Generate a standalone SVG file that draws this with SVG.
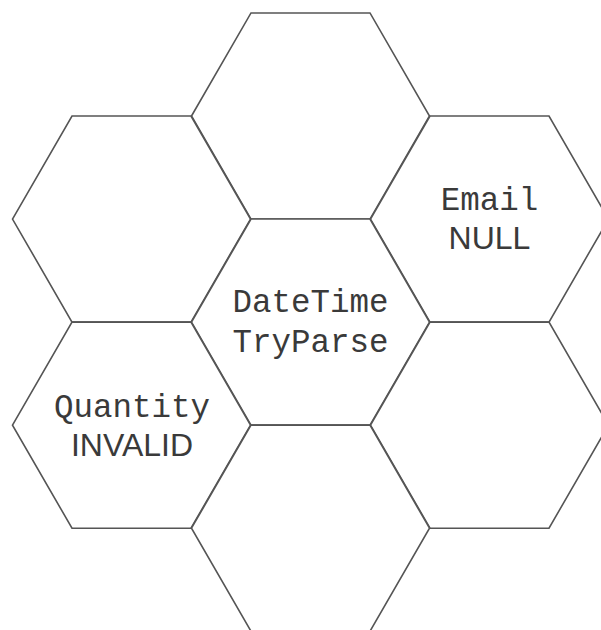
<svg xmlns="http://www.w3.org/2000/svg" xmlns:xlink="http://www.w3.org/1999/xlink" width="601" height="630" viewBox="0 0 601 630">
<style>
.hex{fill:#ffffff;stroke:#555555;stroke-width:1.6;stroke-linejoin:miter}
.mono{font-family:"Liberation Mono","DejaVu Sans Mono",monospace;font-size:32.5px;fill:#3a3a3a;text-anchor:middle}
.sans{font-family:"Liberation Sans",Arial,sans-serif;font-size:32px;fill:#3a3a3a;text-anchor:middle}
</style>
<defs>
<polygon id="hexshape" points="-119,0 -59.5,-103.05 59.5,-103.05 119,0 59.5,103.05 -59.5,103.05"/>
</defs>
<rect width="601" height="630" fill="#ffffff"/>
<g id="connectors"></g>
<g id="hex-top"><use xlink:href="#hexshape" href="#hexshape" class="hex" transform="translate(310.5,116)"/></g>
<g id="hex-upper-left"><use xlink:href="#hexshape" href="#hexshape" class="hex" transform="translate(131.5,219.05)"/></g>
<g id="hex-upper-right"><use xlink:href="#hexshape" href="#hexshape" class="hex" transform="translate(489.5,219.05)"/>
<text class="mono" x="489.5" y="210">Email</text>
<text class="sans" x="489.5" y="249">NULL</text></g>
<g id="hex-center"><use xlink:href="#hexshape" href="#hexshape" class="hex" transform="translate(310.5,322.1)"/>
<text class="mono" x="310.5" y="312">DateTime</text>
<text class="mono" x="310.5" y="352">TryParse</text></g>
<g id="hex-lower-left"><use xlink:href="#hexshape" href="#hexshape" class="hex" transform="translate(131.5,425.15)"/>
<text class="mono" x="132" y="417">Quantity</text>
<text class="sans" x="132" y="456">INVALID</text></g>
<g id="hex-lower-right"><use xlink:href="#hexshape" href="#hexshape" class="hex" transform="translate(489.5,425.15)"/></g>
<g id="hex-bottom"><use xlink:href="#hexshape" href="#hexshape" class="hex" transform="translate(310.5,528.2)"/></g>
</svg>
